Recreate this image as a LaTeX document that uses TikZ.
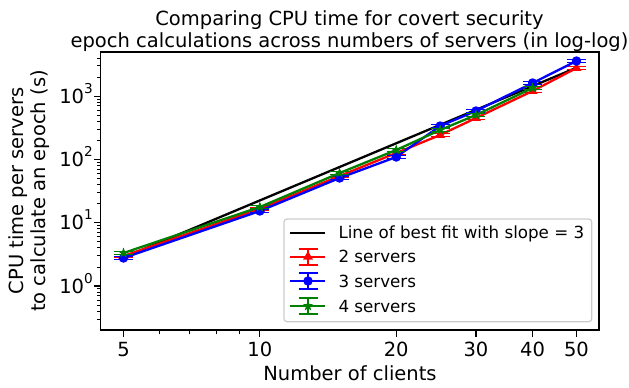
\documentclass[tikz,border=0pt]{standalone}
\usepackage{fontspec}
\setmainfont{DejaVu Sans}
\usetikzlibrary{shapes.geometric}
\definecolor{mplred}{rgb}{1,0,0}
\definecolor{mplblue}{rgb}{0,0,1}
\definecolor{mplgreen}{rgb}{0,0.5,0}
\definecolor{legendedge}{gray}{0.8}
\begin{document}
\begin{tikzpicture}[x=1pt,y=-1pt,
  declare function={px(\v)=123.5+453*(log10(\v)-0.69897); py(\L)=286-63.3*\L;},
  axframe/.style={draw=black, line width=1.2pt},
  majtick/.style={line width=1.2pt},
  mintick/.style={line width=0.9pt},
  ticklabel/.style={font=\fontsize{19.5}{22}\selectfont, inner sep=0pt},
  series/.style={line width=2.3pt, line join=round, color=#1},
  errcap/.style={line width=1.6pt, color=#1},
  trimark/.style={regular polygon, regular polygon sides=3, minimum size=11.5pt, inner sep=0pt, fill=#1},
  dotmark/.style={circle, minimum size=9.5pt, inner sep=0pt, fill=#1},
  starmark/.style={star, star points=5, star point ratio=2.4, minimum size=11pt, inner sep=0pt, fill=#1},
  legtext/.style={font=\fontsize{16.7}{20}\selectfont, anchor=base west, inner sep=0pt},
]
\useasboundingbox (0,0) rectangle (629,388);

% title
\node[font=\fontsize{19.5}{22.6}\selectfont, anchor=base, inner sep=0pt] (title1) at (349.5,25) {Comparing CPU time for covert security};
\node[font=\fontsize{19.5}{22.6}\selectfont, anchor=base, inner sep=0pt] (title2) at (349.5,47.6) {epoch calculations across numbers of servers (in log-log)};

% axis labels
\node[font=\fontsize{19.5}{22.6}\selectfont, anchor=base, inner sep=0pt] (xlabel) at (350,380) {Number of clients};
\node[font=\fontsize{19.5}{22.6}\selectfont, align=center, rotate=90, inner sep=0pt] (ylabel) at (29,191) {CPU time per servers\\to calculate an epoch (s)};

% x ticks
\foreach \v in {5,10,20,30,40,50} {
  \draw[majtick] ({px(\v)},330) -- ++(0,6.8);
  \node[ticklabel, anchor=base] (xt\v) at ({px(\v)},356) {\v};
}
\foreach \v in {6,7,8,9} {
  \draw[mintick] ({px(\v)},330) -- ++(0,3.9);
}

% y ticks
\foreach \d in {0,1,2,3} {
  \draw[majtick] (100.7,{py(\d)}) -- ++(-6.8,0);
  \node[ticklabel, anchor=base east] (yt\d) at (93,{py(\d)+7}) {10\raisebox{0.5em}{\fontsize{13.6}{14}\selectfont\d}};
}
\foreach \d in {-1,0,1,2,3} {
  \foreach \k in {2,...,9} {
    \pgfmathsetmacro\yy{py(\d+log10(\k))}
    \pgfmathparse{(\yy<329.5)&&(\yy>53)}
    \ifnum\pgfmathresult=1
      \draw[mintick] (100.7,\yy) -- ++(-3.9,0);
    \fi
  }
}

% data points
\foreach \n/\x/\y in {1/5/256, 2/10/209, 3/15/176, 4/20/153, 5/25/135, 6/30/118, 7/40/91, 8/50/68}
  \coordinate (r\n) at ({px(\x)},\y);
\foreach \n/\x/\y in {1/5/258, 2/10/211, 3/15/178, 4/20/157, 5/25/126, 6/30/111, 7/40/83, 8/50/61}
  \coordinate (b\n) at ({px(\x)},\y);
\foreach \n/\x/\y in {1/5/253, 2/10/207, 3/15/173, 4/20/150, 5/25/130, 6/30/115, 7/40/88}
  \coordinate (g\n) at ({px(\x)},\y);
\coordinate (fitA) at ({px(5)},257.6);
\coordinate (fitB) at ({px(50)},67.7);

% line of best fit
\draw[series=black] (fitA) -- (fitB);

% 2 servers
\foreach \n in {1,...,8} {
  \draw[errcap=mplred] (r\n) ++(-9.5,-1.5) -- ++(19,0);
  \draw[errcap=mplred] (r\n) ++(-9.5,1.5) -- ++(19,0);
}
\draw[series=mplred] (r1) -- (r2) -- (r3) -- (r4) -- (r5) -- (r6) -- (r7) -- (r8);
\foreach \n in {1,...,8} \node[trimark=mplred] (rm\n) at (r\n) {};

% 3 servers
\foreach \n in {1,...,8} {
  \draw[errcap=mplblue] (b\n) ++(-9.5,-1.5) -- ++(19,0);
  \draw[errcap=mplblue] (b\n) ++(-9.5,1.5) -- ++(19,0);
}
\draw[series=mplblue] (b1) -- (b2) -- (b3) -- (b4) -- (b5) -- (b6) -- (b7) -- (b8);
\foreach \n in {1,...,8} \node[dotmark=mplblue] (bm\n) at (b\n) {};

% 4 servers
\foreach \n in {1,...,7} {
  \draw[errcap=mplgreen] (g\n) ++(-9.5,-1.5) -- ++(19,0);
  \draw[errcap=mplgreen] (g\n) ++(-9.5,1.5) -- ++(19,0);
}
\draw[series=mplgreen] (g1) -- (g2) -- (g3) -- (g4) -- (g5) -- (g6) -- (g7);
\foreach \n in {1,...,7} \node[starmark=mplgreen] (gm\n) at (g\n) {};

% axes frame
\draw[axframe] (100.7,52) rectangle (599,330);

% legend
\draw[draw=legendedge, line width=1.2pt, fill=white, fill opacity=0.8, rounded corners=3pt] (284,219) rectangle (591.7,321.7);
\coordinate (h0a) at (290,232.7); \coordinate (h0b) at (325,232.7);
\draw[series=black] (h0a) -- (h0b);
\node[legtext] (l0) at (338.3,238.8) {Line of best fit with slope = 3};
\foreach \row/\yc/\col/\mk/\txt in {1/256.7/mplred/trimark/2 servers, 2/281/mplblue/dotmark/3 servers, 3/306/mplgreen/starmark/4 servers} {
  \coordinate (h\row a) at (290,\yc);
  \coordinate (h\row b) at (325,\yc);
  \coordinate (h\row c) at (308,\yc);
  \draw[series=\col] (h\row a) -- (h\row b);
  \draw[errcap=\col, line width=2pt] (h\row c) ++(0,-8) -- ++(0,16);
  \draw[errcap=\col] (h\row c) ++(-9.5,-8) -- ++(19,0);
  \draw[errcap=\col] (h\row c) ++(-9.5,8) -- ++(19,0);
  \node[\mk=\col] (hm\row) at (h\row c) {};
  \node[legtext] (l\row) at (338.3,\yc+6.1) {\txt};
}
\end{tikzpicture}
\end{document}
